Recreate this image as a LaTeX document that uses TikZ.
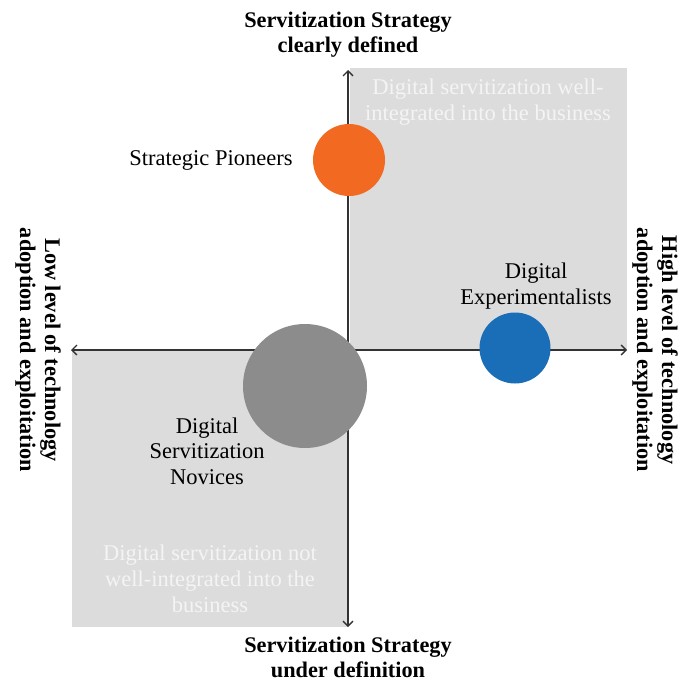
\documentclass[tikz,border=0pt]{standalone}
\usepackage{fontspec}
\setmainfont{Liberation Serif}
\usetikzlibrary{arrows.meta}
\definecolor{quad}{HTML}{DCDCDC}
\definecolor{quadtext}{HTML}{F4F4F4}
\definecolor{pioneer}{HTML}{F26A21}
\definecolor{experim}{HTML}{1A6EB8}
\definecolor{novice}{HTML}{8C8C8C}
\definecolor{axiscol}{HTML}{333333}
\tikzset{
  axis/.style={draw=axiscol, line width=1.3pt, -{Straight Barb[length=5pt,width=10pt]}},
  quadbox/.style={fill=quad, draw=none},
  quadlabel/.style={text=quadtext, font=\fontsize{22.5}{26}\selectfont, align=center, inner sep=0pt},
  title/.style={font=\fontsize{22.3}{25}\selectfont\bfseries, align=center, inner sep=0pt},
  grouplabel/.style={font=\fontsize{22.5}{25.5}\selectfont, align=center, inner sep=0pt},
  bubble/.style={circle, draw=none, inner sep=0pt}
}
\begin{document}
\begin{tikzpicture}[x=1pt,y=1pt]
\useasboundingbox (0,0) rectangle (679,-682);
% quadrant backgrounds
\fill[quadbox] (350,-68) rectangle (627,-350);
\fill[quadbox] (72,-350) rectangle (348,-627);
\node[quadlabel] (qtr) at (488,-102) {Digital servitization well-\\integrated into the business};
\node[quadlabel] (qbl) at (210,-579) {Digital servitization not\\well-integrated into the\\business};
% axes
\coordinate (o) at (348,-350);
\coordinate (top) at (348,-70);
\coordinate (bot) at (348,-627);
\coordinate (left) at (71,-350);
\coordinate (right) at (627,-350);
\draw[axis] (o) -- (top);
\draw[axis] (o) -- (bot);
\draw[axis] (o) -- (left);
\draw[axis] (o) -- (right);
% bubbles
\node[bubble, fill=pioneer, minimum size=72pt] (pio) at (349,-160) {};
\node[bubble, fill=experim, minimum size=71pt] (exp) at (515,-348) {};
\node[bubble, fill=novice, minimum size=124pt] (nov) at (305,-386) {};
% group labels
\node[grouplabel] (lpio) at (211,-160) {Strategic Pioneers};
\node[grouplabel] (lexp) at (536,-286) {Digital\\Experimentalists};
\node[grouplabel] (lnov) at (207,-451) {Digital\\Servitization\\Novices};
% axis titles
\node[title] (ttop) at (348,-35) {Servitization Strategy\\clearly defined};
\node[title] (tbot) at (348,-657) {Servitization Strategy\\under definition};
\node[title, rotate=-90] (tleft) at (38,-350) {Low level of technology\\adoption and exploitation};
\node[title, rotate=-90] (tright) at (655,-350) {High level of technology\\adoption and exploitation};
\end{tikzpicture}
\end{document}
